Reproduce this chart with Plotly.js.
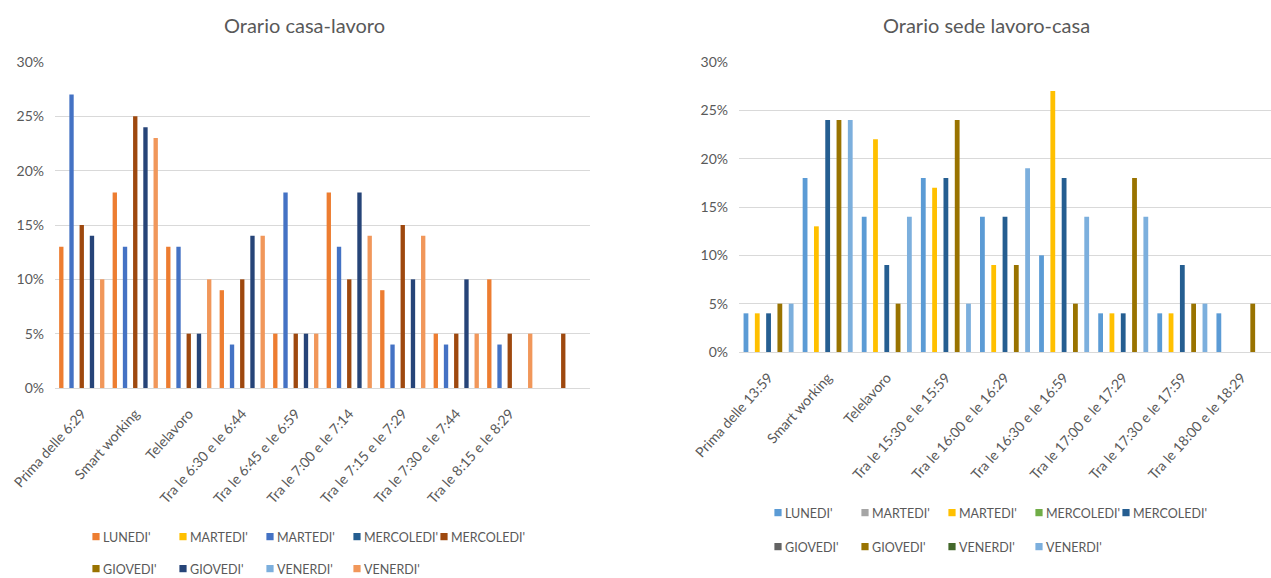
<!DOCTYPE html>
<html>
<head>
<meta charset="utf-8">
<script src="https://cdn.plot.ly/plotly-3.0.1.min.js"></script>
<style>
  html, body { margin: 0; padding: 0; background: #ffffff; }
  #chart { width: 1271px; height: 578px; }
  /* compact legend swatches: smaller square sitting just before the label */
  #chart .legendpoints path { transform: translate(33px, 0px) scale(0.6); }
  /* fixed-width legend columns: let the last label run past the box */
  #chart .scrollbox { clip-path: none; }
</style>
</head>
<body>
<div id="chart"></div>
<script>
// Series names (each weekday appears twice in the source sheet)
const giorni = ["LUNEDI'", "MARTEDI'", "MARTEDI'", "MERCOLEDI'", "MERCOLEDI'",
                "GIOVEDI'", "GIOVEDI'", "VENERDI'", "VENERDI'"];

// Home -> work departure time slots (last slot has no label)
const fasceAndata = ["Prima delle 6:29", "Smart working", "Telelavoro",
  "Tra le 6:30 e le 6:44", "Tra le 6:45 e le 6:59", "Tra le 7:00 e le 7:14",
  "Tra le 7:15 e le 7:29", "Tra le 7:30 e le 7:44", "Tra le 8:15 e le 8:29", " "];

// Work -> home departure time slots
const fasceRitorno = ["Prima delle 13:59", "Smart working", "Telelavoro",
  "Tra le 15:30 e le 15:59", "Tra le 16:00 e le 16:29", "Tra le 16:30 e le 16:59",
  "Tra le 17:00 e le 17:29", "Tra le 17:30 e le 17:59", "Tra le 18:00 e le 18:29"];

// Home -> work shares, percent
const andataLunedi     = [13, 18, 13, 9, 5, 18, 9, 5, 10, null];
const andataMartedi1   = [null, null, null, null, null, null, null, null, null, null];
const andataMartedi2   = [27, 13, 13, 4, 18, 13, 4, 4, 4, null];
const andataMercoledi1 = [null, null, null, null, null, null, null, null, null, null];
const andataMercoledi2 = [15, 25, 5, 10, 5, 10, 15, 5, 5, 5];
const andataGiovedi1   = [null, null, null, null, null, null, null, null, null, null];
const andataGiovedi2   = [14, 24, 5, 14, 5, 18, 10, 10, null, null];
const andataVenerdi1   = [null, null, null, null, null, null, null, null, null, null];
const andataVenerdi2   = [10, 23, 10, 14, 5, 14, 14, 5, 5, null];

// Work -> home shares, percent
const ritornoLunedi     = [4, 18, 14, 18, 14, 10, 4, 4, 4];
const ritornoMartedi1   = [null, null, null, null, null, null, null, null, null];
const ritornoMartedi2   = [4, 13, 22, 17, 9, 27, 4, 4, null];
const ritornoMercoledi1 = [null, null, null, null, null, null, null, null, null];
const ritornoMercoledi2 = [4, 24, 9, 18, 14, 18, 4, 9, null];
const ritornoGiovedi1   = [null, null, null, null, null, null, null, null, null];
const ritornoGiovedi2   = [5, 24, 5, 24, 9, 5, 18, 5, 5];
const ritornoVenerdi1   = [null, null, null, null, null, null, null, null, null];
const ritornoVenerdi2   = [5, 24, 14, 5, 19, 14, 14, 5, null];

const coloriAndata = ["#ED7D31", "#FFC000", "#4472C4", "#255E91", "#9E480E",
                      "#997300", "#264478", "#7CAFDD", "#F1975A"];
const coloriRitorno = ["#5B9BD5", "#A5A5A5", "#FFC000", "#70AD47", "#255E91",
                       "#636363", "#997300", "#43682B", "#7CAFDD"];

const andata = [andataLunedi, andataMartedi1, andataMartedi2, andataMercoledi1, andataMercoledi2,
                andataGiovedi1, andataGiovedi2, andataVenerdi1, andataVenerdi2];
const ritorno = [ritornoLunedi, ritornoMartedi1, ritornoMartedi2, ritornoMercoledi1, ritornoMercoledi2,
                 ritornoGiovedi1, ritornoGiovedi2, ritornoVenerdi1, ritornoVenerdi2];

const W = 1271, H = 578;
const px = v => v / W;
const py = v => 1 - v / H;

const FONT = "Lato, 'Liberation Sans', sans-serif";
const GREY = "#595959";

const traces = [];
andata.forEach((vals, i) => {
  traces.push({
    type: "bar", x: fasceAndata, y: vals, name: giorni[i],
    marker: { color: coloriAndata[i], line: { width: 0 } },
    xaxis: "x", yaxis: "y",
    legend: i < 5 ? "legend" : "legend2",
    hovertemplate: "%{x}: %{y}%<extra>" + giorni[i] + "</extra>"
  });
});
ritorno.forEach((vals, i) => {
  traces.push({
    type: "bar", x: fasceRitorno, y: vals, name: giorni[i],
    marker: { color: coloriRitorno[i], line: { width: 0 } },
    xaxis: "x2", yaxis: "y2",
    legend: i < 5 ? "legend3" : "legend4",
    hovertemplate: "%{x}: %{y}%<extra>" + giorni[i] + "</extra>"
  });
});

const xBase = {
  type: "category", showgrid: false, showline: true, linecolor: "#D9D9D9", linewidth: 1,
  ticks: "", tickangle: -48, ticklabelstandoff: 11,
  tickfont: { family: FONT, size: 14, color: GREY },
  fixedrange: true, automargin: false
};
const yBase = {
  range: [0, 30], dtick: 5, ticksuffix: "%", showgrid: true, gridcolor: "#D9D9D9",
  gridwidth: 1, zeroline: false, showline: false, ticks: "", ticklabelstandoff: 10,
  tickfont: { family: FONT, size: 14, color: GREY }, fixedrange: true, automargin: false
};

// entrywidth covers the label only; swatch area and item gap add 45px -> 87px columns
const legendBase = {
  orientation: "h", xanchor: "left", yanchor: "middle", entrywidth: 42,
  entrywidthmode: "pixels", traceorder: "normal", bgcolor: "rgba(0,0,0,0)",
  font: { family: FONT, size: 12.5, color: GREY }
};

const layout = {
  width: W, height: H,
  margin: { l: 0, r: 0, t: 0, b: 0, autoexpand: false },
  paper_bgcolor: "#ffffff", plot_bgcolor: "#ffffff",
  barmode: "group", bargap: 0.14, bargroupgap: 0.15,
  font: { family: FONT, color: GREY },
  xaxis: Object.assign({}, xBase, { domain: [px(55), px(590)], anchor: "y" }),
  yaxis: Object.assign({}, yBase, { domain: [py(388), py(62)], anchor: "x" }),
  xaxis2: Object.assign({}, xBase, { domain: [px(739), 1], anchor: "y2" }),
  yaxis2: Object.assign({}, yBase, { domain: [py(352), py(62)], anchor: "x2" }),
  legend:  Object.assign({}, legendBase, { x: px(63), y: py(537) }),
  legend2: Object.assign({}, legendBase, { x: px(63), y: py(569) }),
  legend3: Object.assign({}, legendBase, { x: px(745), y: py(513) }),
  legend4: Object.assign({}, legendBase, { x: px(745), y: py(547) }),
  annotations: [
    { text: "Orario casa-lavoro", x: px(304), y: py(25), xref: "paper", yref: "paper",
      showarrow: false, xanchor: "center", yanchor: "middle",
      font: { family: FONT, size: 20, color: GREY } },
    { text: "Orario sede lavoro-casa", x: px(986), y: py(25), xref: "paper", yref: "paper",
      showarrow: false, xanchor: "center", yanchor: "middle",
      font: { family: FONT, size: 20, color: GREY } }
  ],
  showlegend: true
};

Plotly.newPlot("chart", traces, layout, { displayModeBar: false, staticPlot: true });
</script>
</body>
</html>
